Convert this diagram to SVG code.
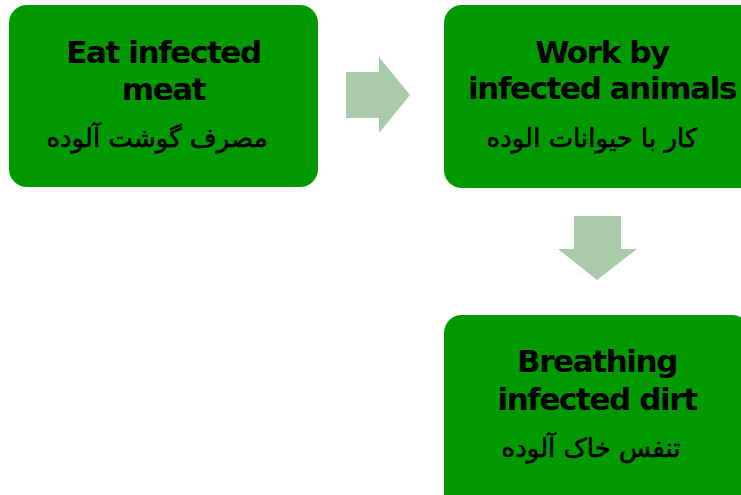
<svg xmlns="http://www.w3.org/2000/svg" width="741" height="495" viewBox="0 0 741 495">
<style>
.box{fill:#009900;}
.en{font-family:"DejaVu Sans","Verdana",sans-serif;font-weight:bold;font-size:31px;letter-spacing:-1.4px;fill:#000;text-anchor:middle;}
.fa{font-family:"DejaVu Sans",sans-serif;font-size:26px;fill:#000;stroke:#000;stroke-width:0.6px;text-anchor:middle;direction:rtl;}
.arr{fill:#a9cba9;}
</style>
<rect width="741" height="495" fill="#fff"/>
<g id="connectors">
<polygon class="arr" points="346,72 379,72 379,57 410,95 379,133 379,118 346,118"/>
<polygon class="arr" points="574,216 621,216 621,249 637,249 597,280 558,249 574,249"/>
</g>
<g id="node1">
<rect class="box" x="9" y="5" width="309" height="182" rx="18"/>
<text class="en" x="163.5" y="63">Eat infected</text>
<text class="en" x="163.5" y="100">meat</text>
<text class="fa" x="157" y="147">مصرف گوشت آلوده</text>
</g>
<g id="node2">
<rect class="box" x="444" y="5" width="316" height="183" rx="18"/>
<text class="en" x="602" y="63">Work by</text>
<text class="en" x="602" y="99">infected animals</text>
<text class="fa" x="592" y="147">کار با حیوانات الوده</text>
</g>
<g id="node3">
<rect class="box" x="444" y="315" width="306" height="200" rx="18"/>
<text class="en" x="597" y="372">Breathing</text>
<text class="en" x="597" y="410">infected dirt</text>
<text class="fa" x="591" y="457">تنفس خاک آلوده</text>
</g>
</svg>
